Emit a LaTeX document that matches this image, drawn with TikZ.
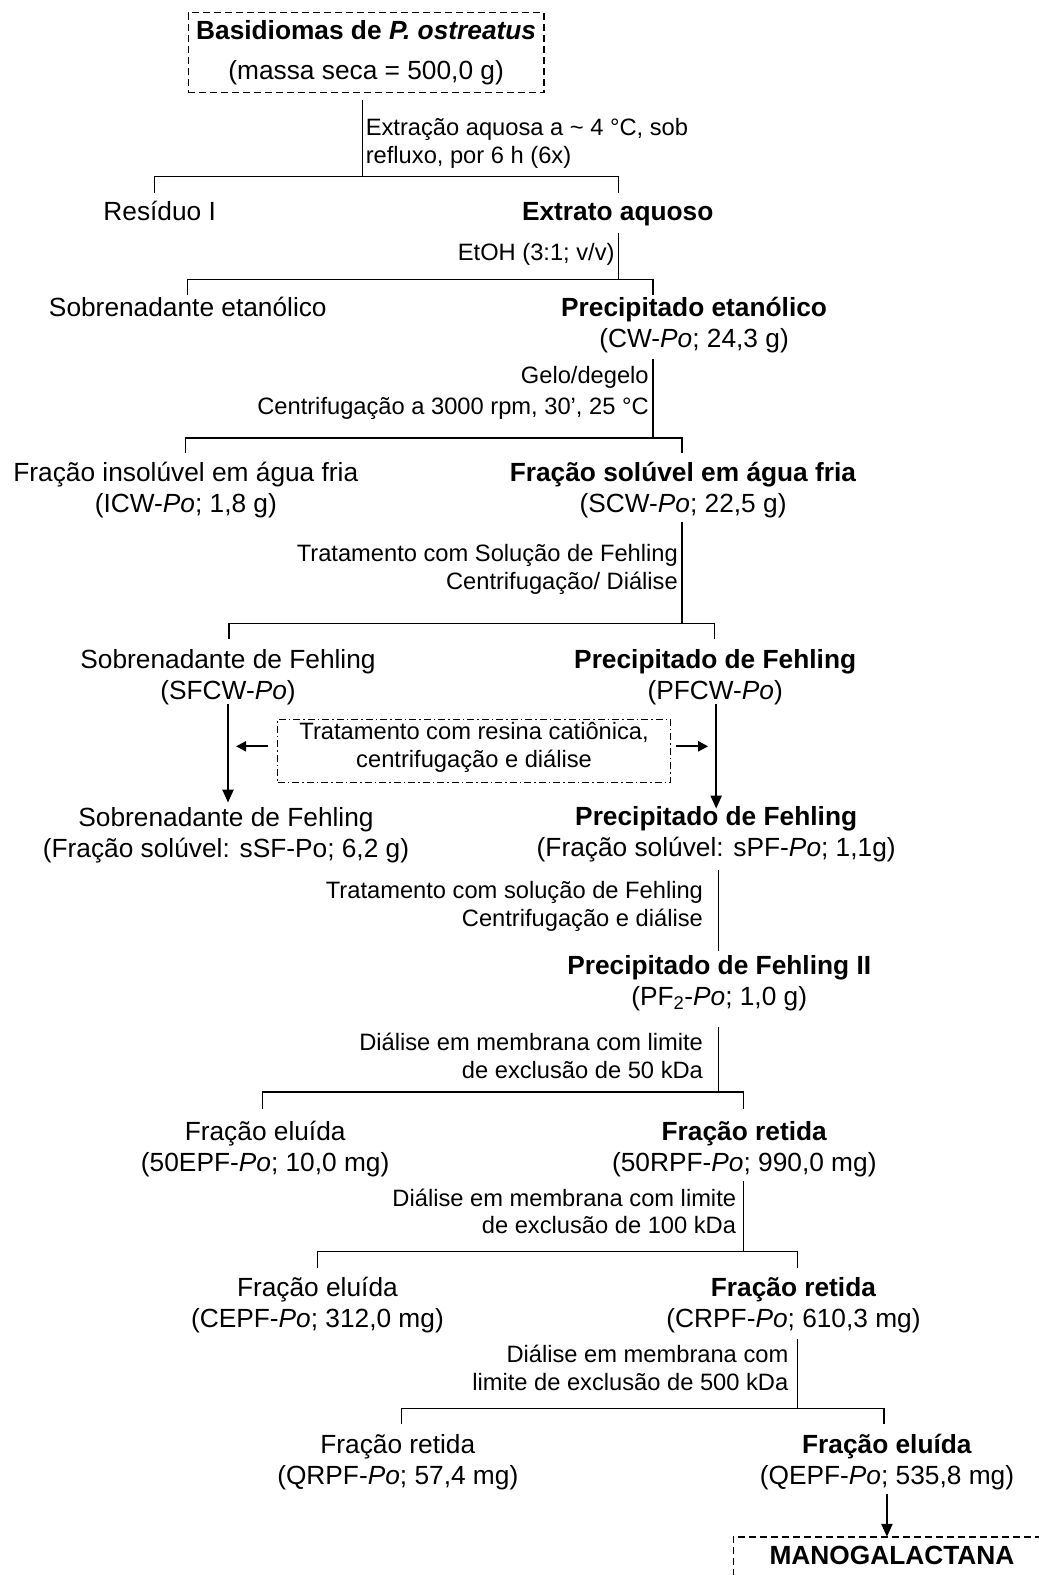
\documentclass[tikz,border=0pt]{standalone}
\usepackage{fontspec}
\setmainfont{Liberation Sans}
\usetikzlibrary{arrows.meta}
\newcommand\mfont{\fontsize{26.3}{31}\selectfont}
\newcommand\lfont{\fontsize{23.7}{28}\selectfont}
\begin{document}
\begin{tikzpicture}[x=1.0049pt,y=-1.0049pt,
  mtxt/.style={font=\mfont, align=center, inner sep=0pt, anchor=base},
  labr/.style={font=\lfont, align=right, inner sep=0pt, anchor=base east},
  labl/.style={font=\lfont, align=left, inner sep=0pt, anchor=base west},
  ln/.style={line width=1.3pt},
  arr/.style={line width=2.2pt, -{Triangle[length=13pt,width=11pt]}},
  sarr/.style={line width=2pt, -{Triangle[length=10pt,width=10pt]}},
  boxd/.style={draw, line width=1.3pt, dash pattern=on 7pt off 4pt},
  boxdd/.style={draw, line width=1.3pt, dash pattern=on 7pt off 3pt on 1.5pt off 3pt}]
\useasboundingbox (0,0) rectangle (1034,1568);

% top box
\node[boxd, font=\mfont, align=center, inner sep=0pt,
      minimum width=356pt, minimum height=80pt] (top) at (364.5,52.4)
  {\textbf{Basidiomas de \textit{P. ostreatus}}\\[9pt](massa seca = 500,0 g)};

% step 1
\coordinate (s1a) at (361,99.5);
\coordinate (s1b) at (361,176);
\coordinate (b1l) at (154,176);
\coordinate (b1r) at (616,176);
\coordinate (t1l) at (154,192);
\coordinate (t1r) at (616,192);
\draw[ln] (s1a) -- (s1b);
\draw[ln] (t1l) -- (b1l) -- (b1r) -- (t1r);
\node[labl] (lab1) at (364,162.5) {Extração aquosa a \textasciitilde{} 4 °C, sob\\refluxo, por 6 h (6x)};
\node[mtxt] (res) at (159,220) {Resíduo I};
\node[mtxt] (ext) at (615,220) {\textbf{Extrato aquoso}};

% step 2
\coordinate (s2a) at (616,232);
\coordinate (s2b) at (616,278);
\coordinate (b2l) at (187,278);
\coordinate (b2r) at (650,278);
\coordinate (t2l) at (187,294);
\coordinate (t2r) at (650,294);
\draw[ln] (s2a) -- (s2b);
\draw[ln] (t2l) -- (b2l) -- (b2r) -- (t2r);
\node[labr] (lab2) at (612,259.5) {EtOH (3:1; v/v)};
\node[mtxt] (sobre) at (187,315) {Sobrenadante etanólico};
\node[mtxt] (precet) at (691,346) {\textbf{Precipitado etanólico}\\(CW-\textit{Po}; 24,3 g)};

% step 3
\coordinate (s3a) at (650,357);
\coordinate (s3b) at (650,436);
\coordinate (b3l) at (185,436);
\coordinate (b3r) at (679,436);
\coordinate (t3l) at (185,451);
\coordinate (t3r) at (679,451);
\draw[ln] (s3a) -- (s3b);
\draw[ln] (t3l) -- (b3l) -- (b3r) -- (t3r);
\node[labr] (lab3) at (646,412.5) {Gelo/degelo\\[3pt]Centrifugação a 3000 rpm, 30’, 25 °C};
\node[mtxt] (insol) at (185,510) {Fração insolúvel em água fria\\(ICW-\textit{Po}; 1,8 g)};
\node[mtxt] (sol) at (680,510) {\textbf{Fração solúvel em água fria}\\(SCW-\textit{Po}; 22,5 g)};

% step 4
\coordinate (s4a) at (679,520);
\coordinate (s4b) at (679,621);
\coordinate (b4l) at (228,621);
\coordinate (b4r) at (711,621);
\coordinate (t4l) at (228,636);
\coordinate (t4r) at (711,636);
\draw[ln] (s4a) -- (s4b);
\draw[ln] (t4l) -- (b4l) -- (b4r) -- (t4r);
\node[labr] (lab4) at (675,586.5) {Tratamento com Solução de Fehling\\Centrifugação/ Diálise};
\node[mtxt] (sfcw) at (227,696) {Sobrenadante de Fehling\\(SFCW-\textit{Po})};
\node[mtxt] (pfcw) at (712,696) {\textbf{Precipitado de Fehling}\\(PFCW-\textit{Po})};

% resin treatment
\node[boxdd, minimum width=393pt, minimum height=63pt, inner sep=0pt] (resin) at (472,747.5) {};
\node[font=\lfont, align=center, inner sep=0pt, anchor=base] (resintxt) at (472,764.5)
  {Tratamento com resina catiônica,\\centrifugação e diálise};
\coordinate (a1a) at (227,701);
\coordinate (a1b) at (227,799);
\coordinate (a2a) at (713,701);
\coordinate (a2b) at (713,805);
\draw[arr] (a1a) -- (a1b);
\draw[arr] (a2a) -- (a2b);
\coordinate (la) at (235,743);
\coordinate (ra) at (705,743);
\draw[sarr] (resin.west |- la) ++(-9,0) -- (la);
\draw[sarr] (resin.east |- ra) ++(5,0) -- (ra);
\node[mtxt] (ssf) at (225,854) {Sobrenadante de Fehling\\(Fração solúvel: sSF-Po; 6,2 g)};
\node[mtxt] (spf) at (713,853) {\textbf{Precipitado de Fehling}\\(Fração solúvel: sPF-\textit{Po}; 1,1g)};

% step 5
\coordinate (s5a) at (715,866);
\coordinate (s5b) at (715,947);
\draw[ln] (s5a) -- (s5b);
\node[labr] (lab5) at (700,922.5) {Tratamento com solução de Fehling\\Centrifugação e diálise};
\node[mtxt] (pf2) at (716,1001) {\textbf{Precipitado de Fehling II}\\(PF\textsubscript{2}-\textit{Po}; 1,0 g)};

% step 6
\coordinate (s6a) at (715,1022);
\coordinate (s6b) at (715,1087);
\coordinate (b6l) at (261,1087);
\coordinate (b6r) at (740,1087);
\coordinate (t6l) at (261,1104);
\coordinate (t6r) at (740,1104);
\draw[ln] (s6a) -- (s6b);
\draw[ln] (t6l) -- (b6l) -- (b6r) -- (t6r);
\node[labr] (lab6) at (700,1073.5) {Diálise em membrana com limite\\de exclusão de 50 kDa};
\node[mtxt] (elu1) at (264,1166) {Fração eluída\\(50EPF-\textit{Po}; 10,0 mg)};
\node[mtxt] (ret1) at (741,1166) {\textbf{Fração retida}\\(50RPF-\textit{Po}; 990,0 mg)};

% step 7
\coordinate (s7a) at (740,1176);
\coordinate (s7b) at (740,1246);
\coordinate (b7l) at (316,1246);
\coordinate (b7r) at (794,1246);
\coordinate (t7l) at (316,1262);
\coordinate (t7r) at (794,1262);
\draw[ln] (s7a) -- (s7b);
\draw[ln] (t7l) -- (b7l) -- (b7r) -- (t7r);
\node[labr] (lab7) at (733,1228.5) {Diálise em membrana com limite\\de exclusão de 100 kDa};
\node[mtxt] (elu2) at (316,1322) {Fração eluída\\(CEPF-\textit{Po}; 312,0 mg)};
\node[mtxt] (ret2) at (790,1322) {\textbf{Fração retida}\\(CRPF-\textit{Po}; 610,3 mg)};

% step 8
\coordinate (s8a) at (794,1333);
\coordinate (s8b) at (794,1402);
\coordinate (b8l) at (400,1402);
\coordinate (b8r) at (880,1402);
\coordinate (t8l) at (400,1418);
\coordinate (t8r) at (880,1418);
\draw[ln] (s8a) -- (s8b);
\draw[ln] (t8l) -- (b8l) -- (b8r) -- (t8r);
\node[labr] (lab8) at (785,1384.5) {Diálise em membrana com\\limite de exclusão de 500 kDa};
\node[mtxt] (ret3) at (396,1478) {Fração retida\\(QRPF-\textit{Po}; 57,4 mg)};
\node[mtxt] (elu3) at (883,1478) {\textbf{Fração eluída}\\(QEPF-\textit{Po}; 535,8 mg)};

% final
\coordinate (mbl) at (730,1580);
\coordinate (mtl) at (730,1530);
\coordinate (mtr) at (1045,1530);
\draw[boxd] (mbl) -- (mtl) -- (mtr);
\node[mtxt] (mano) at (888,1558) {\textbf{MANOGALACTANA}};
\coordinate (a3a) at (883,1487);
\draw[arr] (a3a) -- (a3a |- mtl);
\end{tikzpicture}
\end{document}
